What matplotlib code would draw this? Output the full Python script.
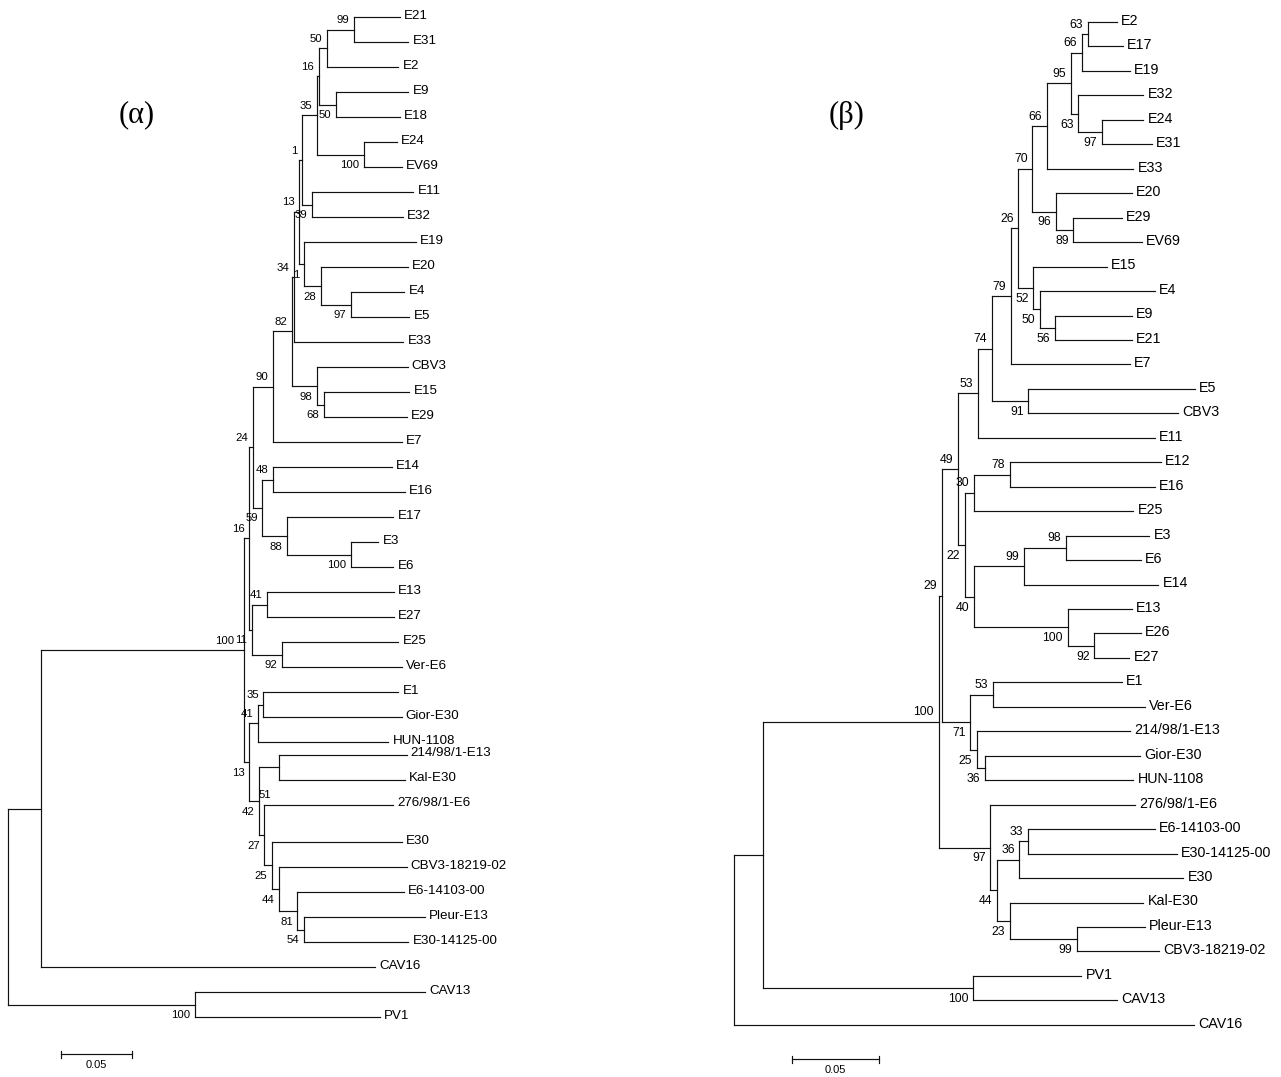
import matplotlib
matplotlib.use("Agg")
import matplotlib.pyplot as plt

# ---------------- data: tree (alpha) ----------------
alpha_leaves = ['E21', 'E31', 'E2', 'E9', 'E18', 'E24', 'EV69', 'E11', 'E32', 'E19',
                'E20', 'E4', 'E5', 'E33', 'CBV3', 'E15', 'E29', 'E7', 'E14', 'E16',
                'E17', 'E3', 'E6', 'E13', 'E27', 'E25', 'Ver-E6', 'E1', 'Gior-E30',
                'HUN-1108', '214/98/1-E13', 'Kal-E30', '276/98/1-E6', 'E30',
                'CBV3-18219-02', 'E6-14103-00', 'Pleur-E13', 'E30-14125-00',
                'CAV16', 'CAV13', 'PV1']
alpha_tip_depth = [0.2733, 0.2791, 0.2722, 0.2791, 0.2733, 0.2710, 0.2745, 0.2826, 0.2752, 0.2845,
                   0.2787, 0.2763, 0.2798, 0.2756, 0.2787, 0.2798, 0.2780, 0.2745, 0.2676, 0.2768,
                   0.2687, 0.2582, 0.2687, 0.2692, 0.2692, 0.2722, 0.2745, 0.2722, 0.2745,
                   0.2652, 0.2780, 0.2768, 0.2687, 0.2745,
                   0.2780, 0.2761, 0.2908, 0.2791,
                   0.2559, 0.2908, 0.2594]
alpha_node_ids = ['a1', 'a2', 'a3', 'a4', 'a5', 'a6', 'a7', 'a8', 'a9', 'a10',
                  'a11', 'a12', 'a13', 'a14', 'a15', 'a16', 'a17', 'a18', 'a19', 'a20',
                  'a21', 'a22', 'a23', 'a24', 'a25', 'a26', 'a27', 'a28', 'a29', 'a30',
                  'a31', 'a32', 'a33', 'a34', 'a35', 'a36', 'a37', 'a38', 'a39', 'a40']
alpha_node_children = [['E21', 'E31'], ['a1', 'E2'], ['E9', 'E18'], ['a2', 'a3'], ['E24', 'EV69'],
                       ['a4', 'a5'], ['E11', 'E32'], ['a6', 'a7'], ['E4', 'E5'], ['E20', 'a9'],
                       ['E19', 'a10'], ['a8', 'a11'], ['a12', 'E33'], ['E15', 'E29'], ['CBV3', 'a14'],
                       ['a13', 'a15'], ['a16', 'E7'], ['E14', 'E16'], ['E3', 'E6'], ['E17', 'a19'],
                       ['a18', 'a20'], ['a17', 'a21'], ['E13', 'E27'], ['E25', 'Ver-E6'], ['a23', 'a24'],
                       ['a22', 'a25'], ['E1', 'Gior-E30'], ['a27', 'HUN-1108'],
                       ['214/98/1-E13', 'Kal-E30'], ['Pleur-E13', 'E30-14125-00'],
                       ['E6-14103-00', 'a30'], ['CBV3-18219-02', 'a31'], ['E30', 'a32'],
                       ['276/98/1-E6', 'a33'], ['a29', 'a34'], ['a28', 'a35'], ['a26', 'a36'],
                       ['a37', 'CAV16'], ['CAV13', 'PV1'], ['a38', 'a39']]
alpha_node_depth = [0.2412, 0.2222, 0.2289, 0.2166, 0.2484, 0.2152, 0.2119, 0.2052, 0.2391, 0.2180,
                    0.2063, 0.2029, 0.1996, 0.2203, 0.2152, 0.1978, 0.1845, 0.1849, 0.2391, 0.1943,
                    0.1773, 0.1706, 0.1803, 0.1912, 0.1699, 0.1682, 0.1780, 0.1745, 0.1889, 0.2063,
                    0.2017, 0.1889, 0.1838, 0.1786, 0.1752, 0.1680, 0.1647, 0.0228, 0.1303, 0.0]
alpha_node_support = [99, 50, 50, 16, 100, 35, 39, 1, 97, 28,
                      1, 13, 34, 68, 98, 82, 90, 48, 100, 88,
                      59, 24, 41, 92, 11, 16, 35, 41, 51, 54,
                      81, 44, 25, 27, 42, 13, 100, None, 100, None]

# ---------------- data: tree (beta) ----------------
beta_leaves = ['E2', 'E17', 'E19', 'E32', 'E24', 'E31', 'E33', 'E20', 'E29', 'EV69',
               'E15', 'E4', 'E9', 'E21', 'E7', 'E5', 'CBV3', 'E11', 'E12', 'E16',
               'E25', 'E3', 'E6', 'E14', 'E13', 'E26', 'E27', 'E1', 'Ver-E6',
               '214/98/1-E13', 'Gior-E30', 'HUN-1108', '276/98/1-E6', 'E6-14103-00',
               'E30-14125-00', 'E30', 'Kal-E30', 'Pleur-E13', 'CBV3-18219-02',
               'PV1', 'CAV13', 'CAV16']
beta_tip_depth = [0.2204, 0.2239, 0.2281, 0.2357, 0.2357, 0.2406, 0.2300, 0.2291, 0.2233, 0.2348,
                  0.2147, 0.2425, 0.2291, 0.2291, 0.2281, 0.2655, 0.2559, 0.2425, 0.2459, 0.2425,
                  0.2300, 0.2392, 0.2342, 0.2444, 0.2291, 0.2342, 0.2277, 0.2233, 0.2367,
                  0.2281, 0.2338, 0.2300, 0.2310, 0.2425,
                  0.2549, 0.2587, 0.2357, 0.2367, 0.2450,
                  0.2001, 0.2207, 0.2649]
beta_node_ids = ['b1', 'b2', 'b3', 'b4', 'b5', 'b6', 'b7', 'b8', 'b9', 'b10',
                 'b11', 'b12', 'b13', 'b14', 'b15', 'b16', 'b17', 'b18', 'b19', 'b20',
                 'b21', 'b22', 'b23', 'b24', 'b25', 'b26', 'b27', 'b28', 'b29', 'b30',
                 'b31', 'b32', 'b33', 'b34', 'b35', 'b36', 'b37', 'b38', 'b39', 'b40', 'b41']
beta_node_children = [['E2', 'E17'], ['b1', 'E19'], ['E24', 'E31'], ['E32', 'b3'], ['b2', 'b4'],
                      ['b5', 'E33'], ['E29', 'EV69'], ['E20', 'b7'], ['b6', 'b8'], ['E9', 'E21'],
                      ['E4', 'b10'], ['E15', 'b11'], ['b9', 'b12'], ['b13', 'E7'], ['E5', 'CBV3'],
                      ['b14', 'b15'], ['b16', 'E11'], ['E12', 'E16'], ['b18', 'E25'], ['E3', 'E6'],
                      ['b20', 'E14'], ['E26', 'E27'], ['E13', 'b22'], ['b21', 'b23'], ['b19', 'b24'],
                      ['b17', 'b25'], ['E1', 'Ver-E6'], ['Gior-E30', 'HUN-1108'],
                      ['214/98/1-E13', 'b28'], ['b27', 'b29'], ['b26', 'b30'],
                      ['E6-14103-00', 'E30-14125-00'], ['b32', 'E30'],
                      ['Pleur-E13', 'CBV3-18219-02'], ['Kal-E30', 'b34'], ['b33', 'b35'],
                      ['276/98/1-E6', 'b36'], ['b31', 'b37'], ['PV1', 'CAV13'], ['b38', 'b39'],
                      ['b40', 'CAV16']]
beta_node_depth = [0.2037, 0.2003, 0.2118, 0.1983, 0.1941, 0.1801, 0.1955, 0.1855, 0.1719, 0.1849,
                   0.1763, 0.1724, 0.1638, 0.1596, 0.1696, 0.1485, 0.1404, 0.1590, 0.1383, 0.1911,
                   0.1671, 0.2075, 0.1922, 0.1383, 0.1331, 0.1293, 0.1490, 0.1445, 0.1400, 0.1362,
                   0.1197, 0.1692, 0.1644, 0.1974, 0.1590, 0.1514, 0.1476, 0.1179, 0.1379, 0.0169, 0.0]
beta_node_support = [63, 66, 97, 63, 95, 66, 89, 96, 70, 56,
                     50, 52, 26, 79, 91, 74, 53, 78, 30, 98,
                     99, 92, 100, 40, 22, 49, 53, 36, 25, 71,
                     29, 33, 36, 99, 23, 44, 97, 100, 100, None, None]

scale_bar_length = 0.05
scale_bar_text = "0.05"
titles = ["(\u03b1)", "(\u03b2)"]

# ---------------- layout ----------------
W, H, DPI = 1281, 1077, 100
alpha_rows = list(range(30)) + [29.5, 30.5, 31.5] + list(range(33, 41))
beta_rows = list(range(42))
# pixel geometry of each panel: root x, px per unit, first row y, px per row
alpha_geo = dict(root=8.3, ppu=1433.0, y0=17.0, dy=25.0)
beta_geo = dict(root=733.6, ppu=1738.0, y0=22.0, dy=24.46)
LINE_KW = dict(color="#111111", lw=0.85, solid_capstyle="projecting")

fig = plt.figure(figsize=(W / DPI, H / DPI), dpi=DPI)
fig.patch.set_facecolor("white")


def make_axes(geo):
    ax = fig.add_axes([0, 0, 1, 1])
    ax.set_xlim((0 - geo["root"]) / geo["ppu"], (W - geo["root"]) / geo["ppu"])
    ax.set_ylim((H - geo["y0"]) / geo["dy"], (0 - geo["y0"]) / geo["dy"])
    ax.set_axis_off()
    ax.patch.set_alpha(0)
    return ax


def draw_tree(ax, leaves, tips, rows, ids, children, depth, support,
              leaf_fs, bs_fs, overrides=None, pads=None):
    overrides = overrides or {}
    pads = pads or {}
    X, Y = {}, {}
    for n, d, r in zip(leaves, tips, rows):
        X[n], Y[n] = d, r
    parent = {}
    for nid, ch, d in zip(ids, children, depth):
        X[nid] = d
        Y[nid] = (Y[ch[0]] + Y[ch[-1]]) / 2.0
        for c in ch:
            parent[c] = nid
    kids = dict(zip(ids, children))
    for nid, ch in zip(ids, children):
        ax.plot([X[nid], X[nid]], [Y[ch[0]], Y[ch[-1]]], **LINE_KW)
        for c in ch:
            ax.plot([X[nid], X[c]], [Y[c], Y[c]], **LINE_KW)
    for n in leaves:
        ax.annotate(n, (X[n], Y[n]), xytext=(3.0, 0.8), textcoords="offset points",
                    ha="left", va="center", fontsize=leaf_fs, family="Liberation Sans",
                    color="black")
    for nid, s in zip(ids, support):
        if s is None:
            continue
        if nid in overrides:
            xref, yref = overrides[nid]
            ax.annotate(str(s), (X[xref], Y[yref]), xytext=(0.5, 7.0),
                        textcoords="offset points", ha="center", va="center",
                        fontsize=bs_fs, family="Liberation Sans", color="black")
            continue
        p = parent.get(nid)
        upper = p is not None and kids[p][0] == nid
        dy = 6.8 if upper else -7.8
        ax.annotate(str(s), (X[nid], Y[nid]), xytext=(pads.get(nid, -3.3), dy),
                    textcoords="offset points", ha="right", va="center",
                    fontsize=bs_fs, family="Liberation Sans", color="black")


def scale_bar(ax, x0, row, geo):
    ax.plot([x0, x0 + scale_bar_length], [row, row], **LINE_KW)
    h = 3.5 / geo["dy"]
    for xx in (x0, x0 + scale_bar_length):
        ax.plot([xx, xx], [row - h, row + h], **LINE_KW)
    ax.annotate(scale_bar_text, (x0 + scale_bar_length / 2, row), xytext=(0, -8.0),
                textcoords="offset points", ha="center", va="center", fontsize=8,
                family="Liberation Sans", color="black")


ax_a = make_axes(alpha_geo)
draw_tree(ax_a, alpha_leaves, alpha_tip_depth, alpha_rows, alpha_node_ids,
          alpha_node_children, alpha_node_depth, alpha_node_support,
          leaf_fs=9.6, bs_fs=8.2, overrides={"a29": ("a34", "276/98/1-E6")},
          pads={"a37": -7.0})
scale_bar(ax_a, 0.0366, 41.49, alpha_geo)

ax_b = make_axes(beta_geo)
draw_tree(ax_b, beta_leaves, beta_tip_depth, beta_rows, beta_node_ids,
          beta_node_children, beta_node_depth, beta_node_support,
          leaf_fs=10.3, bs_fs=8.8)
scale_bar(ax_b, 0.0334, 42.41, beta_geo)

fig.text(137 / W, 1 - 115 / H, titles[0], ha="center", va="center", fontsize=22,
         family="Liberation Serif")
fig.text(847 / W, 1 - 115 / H, titles[1], ha="center", va="center", fontsize=22,
         family="Liberation Serif")

fig.savefig("out.png", dpi=DPI, facecolor="white")
